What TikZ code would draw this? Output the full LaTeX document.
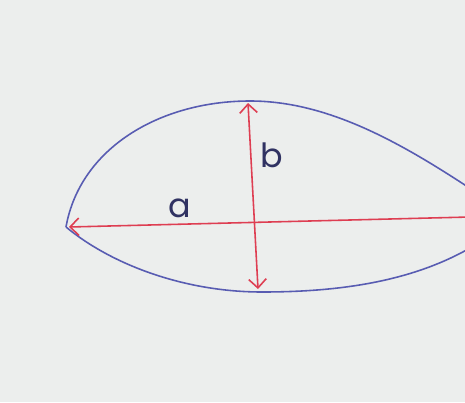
\documentclass[tikz,border=0pt]{standalone}
\usepackage{fontspec}
\setsansfont{Poppins}
\usetikzlibrary{arrows.meta,positioning,calc}
\definecolor{paper}{RGB}{236,238,237}
\definecolor{pen}{RGB}{88,92,178}
\definecolor{ink}{RGB}{222,62,82}

\begin{document}
\begin{tikzpicture}[x=0.02cm,y=-0.02cm,>={Straight Barb[length=5pt,width=10pt]},font=\sffamily\fontsize{19}{22}\selectfont]
\tikzstyle{outline}=[draw=pen,line width=0.9pt]
\tikzstyle{axis}=[draw=ink,line width=0.9pt]
\tikzstyle{lbl}=[text=pen!55!black,inner sep=0pt]
\fill[paper] (0,0) rectangle (465,402);
\useasboundingbox (0,0) rectangle (465,402);
\clip (0,0) rectangle (465,402);
% points of the drop
\coordinate (tip) at (66,227);
\coordinate (top) at (250,101);
\coordinate (bot) at (262,292);
\coordinate (re) at (470,217);
\coordinate (ut) at (248,103);
\coordinate (ub) at (258,289);
\coordinate (le) at (69,227);
% outline
\draw[outline] (tip) .. controls (80,148) and (160,101) .. (top)
  .. controls (330,101) and (405,145) .. (480,195);
\draw[outline] (tip) .. controls (112,265) and (185,292) .. (bot)
  .. controls (345,292) and (420,280) .. (480,242);
% axes
\draw[axis,->] (re) -- (le);
\draw[axis,<->] (ut) -- (ub);
\node[lbl] (a) at (180,208) {a};
\node[lbl] (b) at (272,155) {b};
\end{tikzpicture}
\end{document}
